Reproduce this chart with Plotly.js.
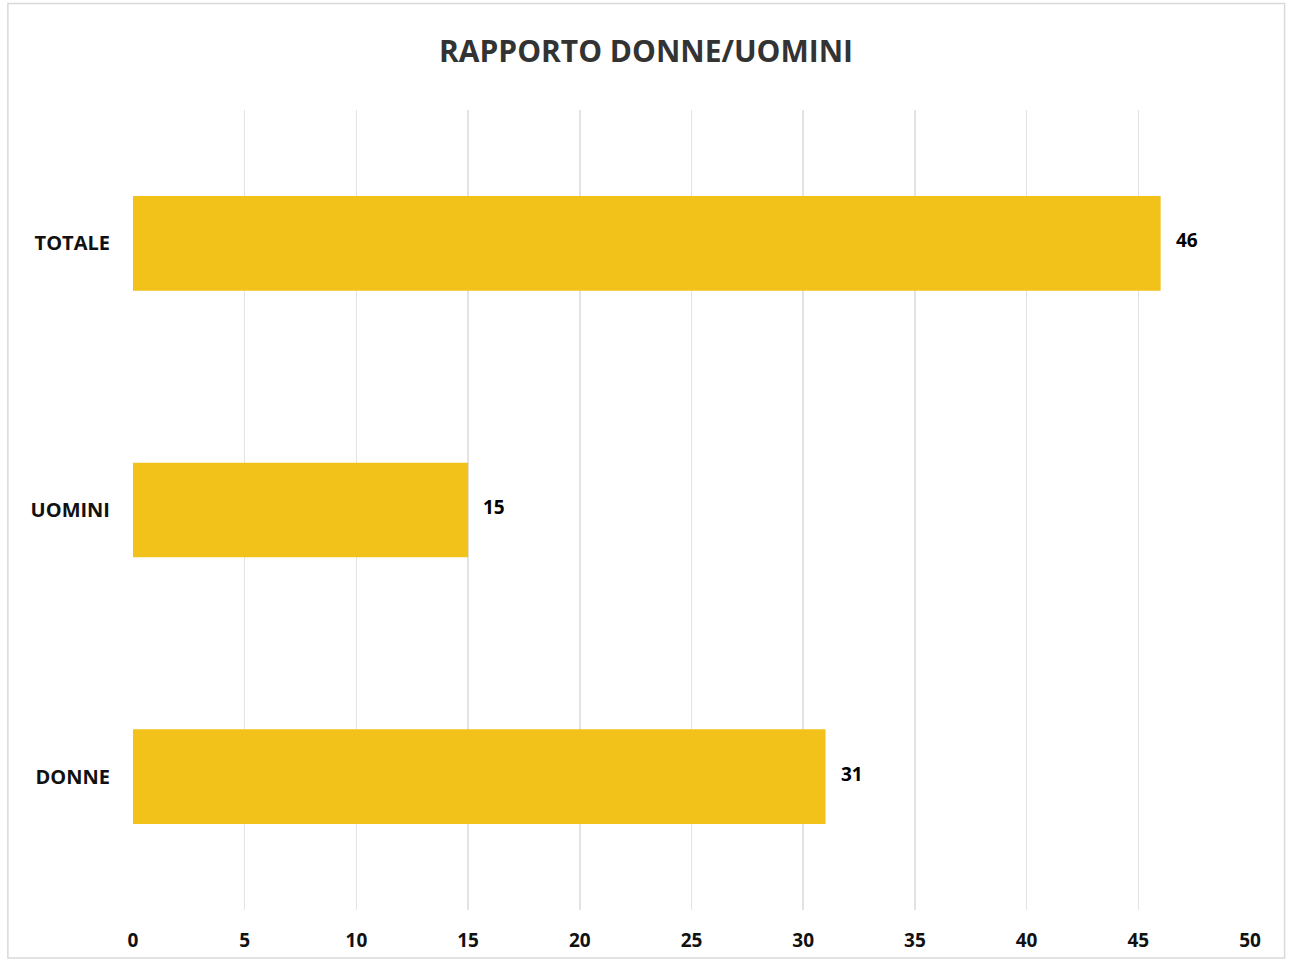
<!DOCTYPE html>
<html>
<head>
<meta charset="utf-8">
<script src="https://cdn.plot.ly/plotly-3.0.1.min.js"></script>
<style>html,body{margin:0;padding:0;background:#fff;}#chart{width:1292px;height:968px;}</style>
</head>
<body>
<div id="chart"></div>
<script>
const categories = ["DONNE", "UOMINI", "TOTALE"];
const values = [31, 15, 46];
const xTicks = [0, 5, 10, 15, 20, 25, 30, 35, 40, 45, 50];
const chartTitle = "RAPPORTO DONNE/UOMINI";

const labelFont = {family: "Open Sans, sans-serif", size: 19, color: "#000", weight: 700};

const trace = {
  type: "bar",
  orientation: "h",
  y: categories,
  x: values,
  marker: {color: "#F2C21B"},
  hoverinfo: "none"
};

const annotations = categories.map((c, i) => ({
  x: values[i], y: c, xref: "x", yref: "y",
  text: String(values[i]), showarrow: false,
  xanchor: "left", yanchor: "middle", xshift: 13, yshift: 3,
  font: labelFont
}));

const layout = {
  width: 1292, height: 968,
  paper_bgcolor: "#fff", plot_bgcolor: "#fff",
  margin: {l: 133, r: 42, t: 110, b: 58},
  showlegend: false,
  bargap: 0.645,
  title: {text: chartTitle, x: 0.5, xanchor: "center", y: 0.947, yanchor: "middle",
    font: {family: "Open Sans, sans-serif", size: 30, color: "#333", weight: 700}},
  xaxis: {range: [0, 50], tickvals: xTicks, ticktext: xTicks.map(String),
    showgrid: true, gridcolor: "#e3e3e3", gridwidth: 1.5, zeroline: false,
    showline: false, ticks: "", ticklabelstandoff: 17,
    tickfont: {family: "Open Sans, sans-serif", size: 19, color: "#111", weight: 700}},
  yaxis: {showgrid: false, zeroline: false, showline: false, ticks: "", ticklabelstandoff: 22,
    tickfont: {family: "Open Sans, sans-serif", size: 20, color: "#111", weight: 700}},
  annotations: annotations,
  shapes: [{type: "rect", xref: "paper", yref: "paper", x0: -0.112, x1: 1.031, y0: -0.06, y1: 1.133,
    line: {color: "#d9d9d9", width: 1.5}}]
};

Plotly.newPlot("chart", [trace], layout, {displayModeBar: false, staticPlot: true});
</script>
</body>
</html>
